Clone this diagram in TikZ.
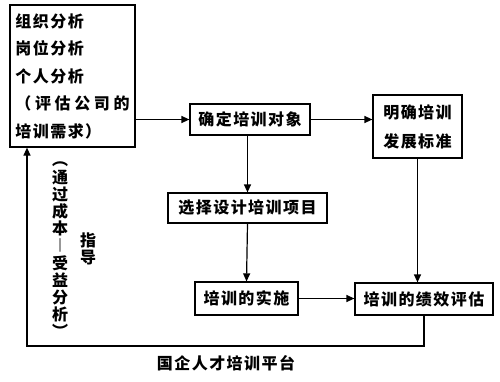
\documentclass[tikz,border=0pt]{standalone}
\usepackage{fontspec}
\usetikzlibrary{arrows.meta}
\newfontfamily\cjk[LetterSpace=9]{Noto Sans CJK SC}
\begin{document}
\begin{tikzpicture}[x=1pt,y=-1pt,
  box/.style={draw,line width=1.2pt,inner sep=0pt,font=\cjk\bfseries\fontsize{16}{17}\selectfont},
  conn/.style={line width=1.2pt,-{Triangle[length=8pt,width=7pt]}},
  lbl/.style={font=\cjk\bfseries\fontsize{16}{17.2}\selectfont,inner sep=0pt,align=center}]
\useasboundingbox (0,0) rectangle (500,381);
\node[box,minimum width=125pt,minimum height=142pt,text width=114pt,align=left,
  font=\cjk\bfseries\fontsize{16}{27.5}\selectfont] (L) at (72.5,76)
  {组织分析\\岗位分析\\个人分析\\\makebox[114pt][s]{（\hfill 评\hfill 估\hfill 公\hfill 司\hfill 的}\\培训需求）};
\node[box,minimum width=120pt,minimum height=31pt] (D) at (250,119.5) {确定培训对象};
\node[box,minimum width=89pt,minimum height=63pt,align=center,
  font=\cjk\bfseries\fontsize{16}{29}\selectfont] (M) at (417.5,126.5) {明确培训\\发展标准};
\node[box,minimum width=159pt,minimum height=30pt] (X) at (247.5,208) {选择设计培训项目};
\node[box,minimum width=103pt,minimum height=33pt] (S) at (246.5,298.5) {培训的实施};
\node[box,minimum width=138pt,minimum height=32pt] (P) at (424,299) {培训的绩效评估};
\node[lbl] (V) at (60,250) {︵\\通\\过\\成\\本\\︱\\受\\益\\分\\析\\︶};
\node[lbl] (G) at (88,249) {指\\导};
\node[lbl] (C) at (226,363) {国企人才培训平台};
\coordinate (fb) at (27,346);
\draw[conn] (L.east |- D.west) -- (D.west);
\draw[conn] (D.east) -- (D.east -| M.west);
\draw[conn] (X.north |- D.south) -- (X.north);
\draw[conn] (X.south) -- (S.north);
\draw[conn] (M.south) -- (M.south |- P.north);
\draw[conn] (S.east) -- (S.east -| P.west);
\draw[conn] (P.south) |- (fb) -- (fb |- L.south);
\end{tikzpicture}
\end{document}
